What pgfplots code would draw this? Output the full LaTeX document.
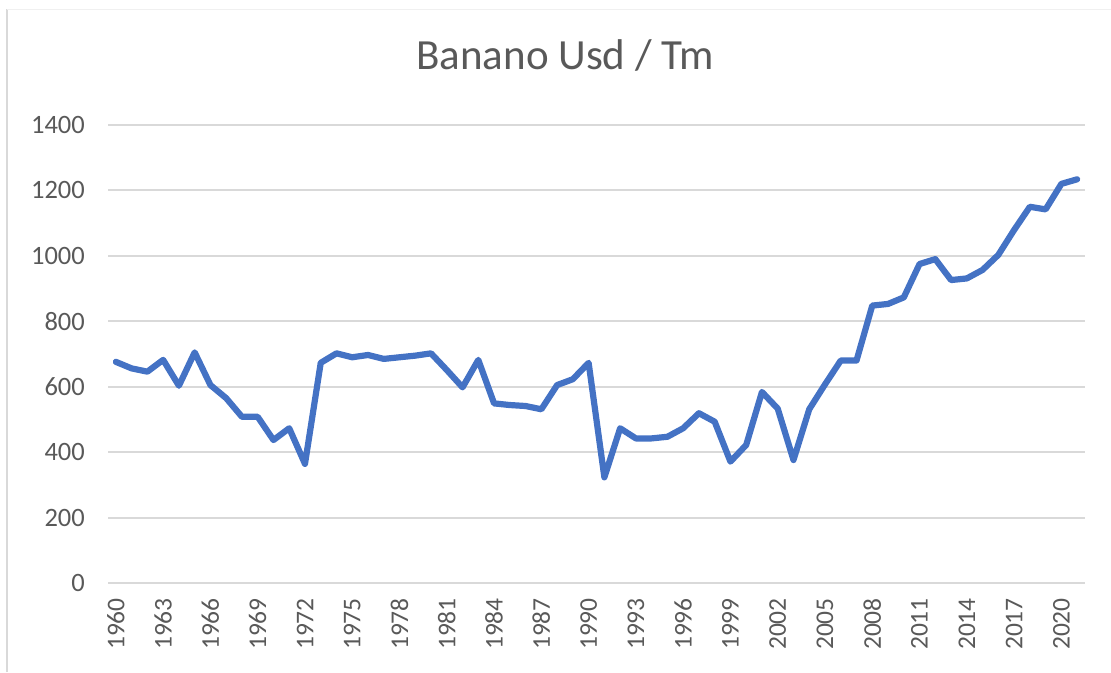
\documentclass[border=0pt]{standalone}
\usepackage{fontspec}
\setmainfont{Carlito}
\usepackage{pgfplots}
\pgfplotsset{compat=1.18}
\definecolor{linec}{HTML}{4472C4}
\definecolor{gridc}{HTML}{D9D9D9}
\definecolor{txt}{HTML}{595959}
\begin{document}
\begin{tikzpicture}
\path[use as bounding box] (0pt,0pt) rectangle (1111pt,672pt);
\draw[gridc, line width=2pt] (7pt,0pt) -- (7pt,663pt);
\draw[gridc!40, line width=1pt] (7pt,662pt) -- (1111pt,662pt);
\begin{axis}[
  at={(108pt,89pt)}, anchor=south west,
  scale only axis, width=977pt, height=458pt,
  xmin=1959.5, xmax=2021.5, ymin=0, ymax=1400,
  ytick={0,200,...,1400},
  xtick={1960,1963,...,2020},
  ymajorgrids, grid style={gridc, line width=2pt},
  axis line style={draw=none},
  major tick length=0pt,
  /pgf/number format/assume math mode=true,
  /pgf/number format/1000 sep={},
  xticklabel style={rotate=90, anchor=east, inner sep=0pt, xshift=-15pt,
    font=\fontsize{25.5}{25.5}\selectfont, text=txt},
  yticklabel style={anchor=east, inner sep=0pt, xshift=-23pt,
    font=\fontsize{26.5}{26.5}\selectfont, text=txt},
  title={Banano Usd / Tm},
  title style={at={(0.468,1.1376)}, anchor=center, inner sep=0pt,
    font=\fontsize{43}{43}\selectfont, text=txt},
]
\addplot[linec, line width=6.2pt, line join=round, line cap=round] coordinates {
(1960,676) (1961,656) (1962,646) (1963,682) (1964,603) (1965,705)
(1966,605) (1967,565) (1968,508) (1969,508) (1970,437) (1971,473)
(1972,364) (1973,673) (1974,702) (1975,690) (1976,697) (1977,685)
(1978,690) (1979,695) (1980,702) (1981,651) (1982,598) (1983,682)
(1984,549) (1985,544) (1986,541) (1987,531) (1988,605) (1989,623)
(1990,673) (1991,323) (1992,473) (1993,442) (1994,442) (1995,447)
(1996,473) (1997,519) (1998,493) (1999,371) (2000,422) (2001,584)
(2002,533) (2003,376) (2004,531) (2005,607) (2006,680) (2007,680)
(2008,848) (2009,853) (2010,873) (2011,975) (2012,990) (2013,926)
(2014,931) (2015,957) (2016,1003) (2017,1079) (2018,1150) (2019,1142)
(2020,1220) (2021,1234)
};
\end{axis}
\end{tikzpicture}
\end{document}
